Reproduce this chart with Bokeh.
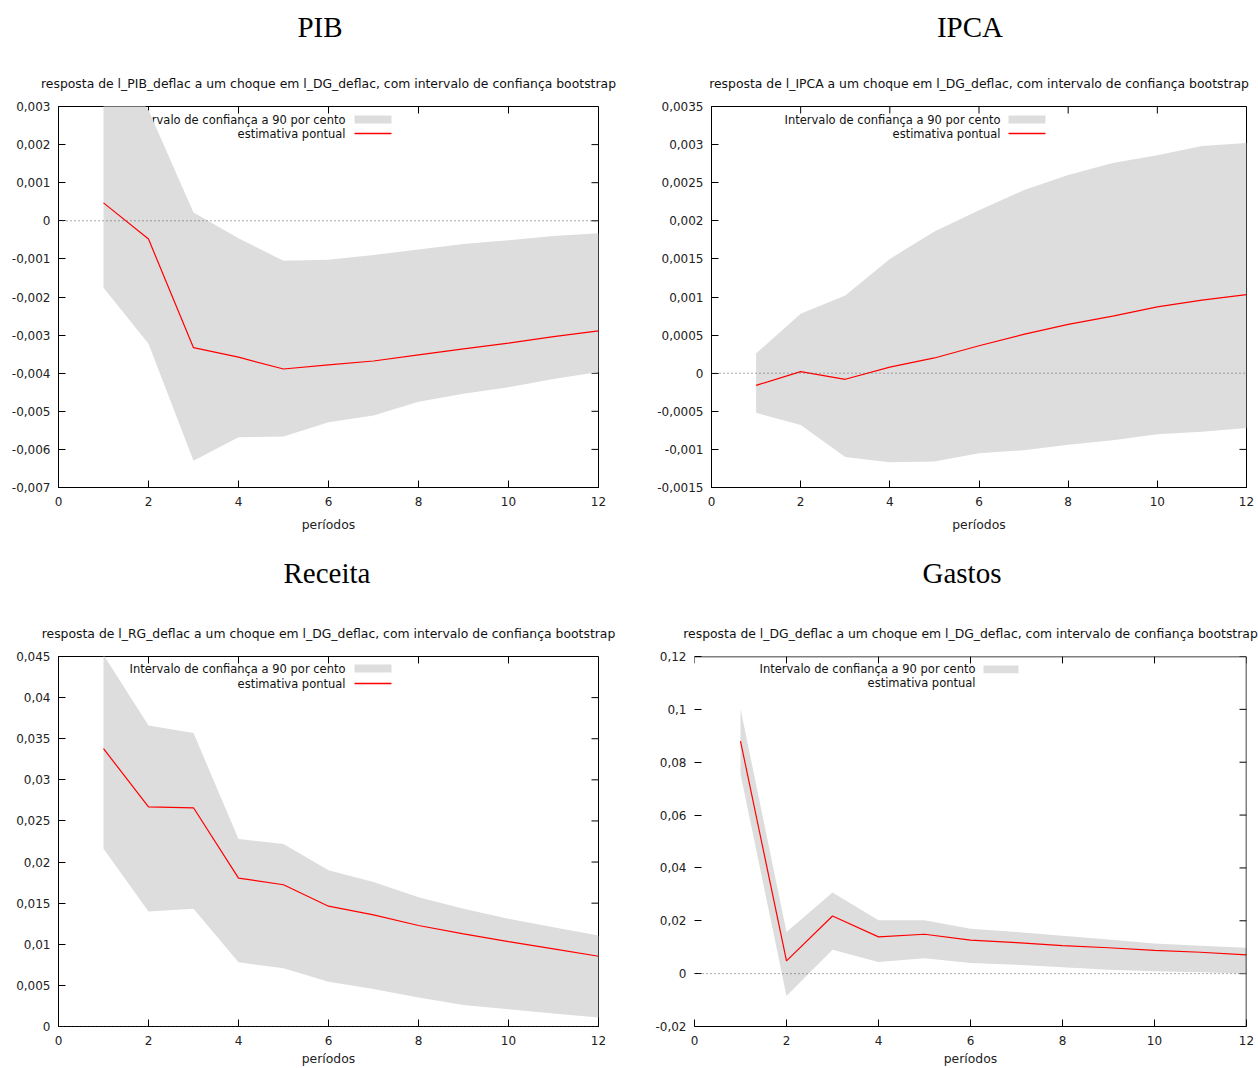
from bokeh.plotting import figure
from bokeh.models import (Range1d, FixedTicker, Span, Label,
                          BoxAnnotation, Div, CustomJSTickFormatter)
from bokeh.layouts import column, row
from bokeh.embed import file_html
from bokeh.resources import INLINE

# ---------------- data ----------------
periods = [1, 2, 3, 4, 5, 6, 7, 8, 9, 10, 11, 12]

pib_est = [0.00047, -0.00048, -0.00333, -0.00358, -0.00389, -0.00378,
           -0.00368, -0.00352, -0.00336, -0.00321, -0.00304, -0.00289]
pib_lo = [-0.00176, -0.00323, -0.0063, -0.00568, -0.00566, -0.00529,
          -0.00511, -0.00475, -0.00454, -0.00437, -0.00415, -0.00397]
pib_hi = [0.0045, 0.0029, 0.00022, -0.00046, -0.00105, -0.00102,
          -0.0009, -0.00075, -0.00061, -0.00051, -0.0004, -0.00033]

ipca_est = [-0.00016, 0.00002, -0.00008, 0.00008, 0.0002, 0.00036,
            0.00051, 0.00064, 0.00075, 0.00087, 0.00096, 0.00103]
ipca_lo = [-0.00052, -0.00068, -0.0011, -0.00117, -0.00116, -0.00105,
           -0.00101, -0.00094, -0.00088, -0.0008, -0.00077, -0.00072]
ipca_hi = [0.00026, 0.00078, 0.00102, 0.0015, 0.00186, 0.00214,
           0.0024, 0.0026, 0.00276, 0.00286, 0.00298, 0.00302]

rec_est = [0.0338, 0.0267, 0.0266, 0.01805, 0.01724, 0.01463,
           0.01358, 0.01228, 0.01126, 0.01033, 0.00943, 0.00854]
rec_lo = [0.02163, 0.01398, 0.01431, 0.0078, 0.00707, 0.00545,
          0.00455, 0.00354, 0.0026, 0.00211, 0.00159, 0.0011]
rec_hi = [0.0452, 0.0366, 0.0357, 0.0228, 0.0222, 0.019,
          0.01756, 0.01573, 0.01431, 0.01309, 0.01207, 0.01106]

gas_est = [0.088, 0.00485, 0.0218, 0.0139, 0.0149, 0.0127,
           0.0117, 0.0106, 0.0098, 0.0088, 0.0081, 0.0071]
gas_lo = [0.0755, -0.0085, 0.009, 0.0044, 0.0058, 0.004,
          0.0034, 0.0024, 0.0015, 0.0009, 0.0005, 0.0001]
gas_hi = [0.1002, 0.0158, 0.0307, 0.0202, 0.0202, 0.017,
          0.0158, 0.0143, 0.0129, 0.0114, 0.0106, 0.0098]

x_ticks = [0, 2, 4, 6, 8, 10, 12]
x_labels = ["0", "2", "4", "6", "8", "10", "12"]

pib_yticks = [-0.007, -0.006, -0.005, -0.004, -0.003, -0.002, -0.001, 0.0, 0.001, 0.002, 0.003]
pib_ylabels = ["-0,007", "-0,006", "-0,005", "-0,004", "-0,003", "-0,002", "-0,001",
               "0", "0,001", "0,002", "0,003"]
ipca_yticks = [-0.0015, -0.001, -0.0005, 0.0, 0.0005, 0.001, 0.0015, 0.002, 0.0025, 0.003, 0.0035]
ipca_ylabels = ["-0,0015", "-0,001", "-0,0005", "0", "0,0005", "0,001", "0,0015",
                "0,002", "0,0025", "0,003", "0,0035"]
rec_yticks = [0.0, 0.005, 0.01, 0.015, 0.02, 0.025, 0.03, 0.035, 0.04, 0.045]
rec_ylabels = ["0", "0,005", "0,01", "0,015", "0,02", "0,025", "0,03", "0,035", "0,04", "0,045"]
gas_yticks = [-0.02, 0.0, 0.02, 0.04, 0.06, 0.08, 0.1, 0.12]
gas_ylabels = ["-0,02", "0", "0,02", "0,04", "0,06", "0,08", "0,1", "0,12"]

headers = ["PIB", "IPCA", "Receita", "Gastos"]
subtitles = [
    "resposta de l_PIB_deflac a um choque em l_DG_deflac, com intervalo de confiança bootstrap",
    "resposta de l_IPCA a um choque em l_DG_deflac, com intervalo de confiança bootstrap",
    "resposta de l_RG_deflac a um choque em l_DG_deflac, com intervalo de confiança bootstrap",
    "resposta de l_DG_deflac a um choque em l_DG_deflac, com intervalo de confiança bootstrap",
]
legend_band = "Intervalo de confiança a 90 por cento"
legend_line = "estimativa pontual"
x_title = "períodos"

FONT = "DejaVu Sans"
BAND = "#dddddd"
RED = "#ff0000"
TICK = 7

JS = """
for (let i = 0; i < vals.length; i++) {
  if (Math.abs(vals[i] - tick) < 1e-12) { return labels[i]; }
}
return '';
"""


def fmt(vals, labels):
    return CustomJSTickFormatter(args=dict(vals=vals, labels=labels), code=JS)


def make_panel(subtitle, est, lo, hi, yticks, ylabels, ymin, ymax,
               width, height, bl, br, bt, bb,
               leg_text_right, leg_sw_left, leg_sw_right, leg_rows,
               left_line=True, line_sample=True, legend_under=False,
               xlabel_standoff=3):
    fw = width - bl - br
    fh = height - bt - bb
    p = figure(width=width, height=height, x_range=Range1d(0, 12),
               y_range=Range1d(ymin, ymax), output_backend="svg",
               toolbar_location=None, min_border_left=bl, min_border_right=br,
               min_border_top=bt, min_border_bottom=bb)
    p.background_fill_color = "white"
    p.border_fill_color = "white"
    p.xgrid.visible = False
    p.ygrid.visible = False
    p.outline_line_color = "black" if left_line else None

    p.title.text = subtitle
    p.title.align = "center"
    p.title.text_font = FONT
    p.title.text_font_size = "12.4px"
    p.title.text_font_style = "normal"
    p.title.text_color = "#111111"
    p.title.standoff = 32

    for ax in (p.xaxis[0], p.yaxis[0]):
        ax.major_tick_in = TICK
        ax.major_tick_out = 0
        ax.minor_tick_line_color = None
        ax.major_tick_line_color = "black"
        ax.axis_line_color = "black"
        ax.major_label_text_font = FONT
        ax.major_label_text_font_size = "12px"
        ax.major_label_text_color = "#222222"
        ax.major_label_standoff = 8

    p.xaxis.ticker = FixedTicker(ticks=x_ticks, minor_ticks=[])
    p.xaxis.formatter = fmt(x_ticks, x_labels)
    p.xaxis.major_label_standoff = 9
    p.xaxis.axis_label = x_title
    p.xaxis.axis_label_text_font = FONT
    p.xaxis.axis_label_text_font_size = "12.4px"
    p.xaxis.axis_label_text_font_style = "normal"
    p.xaxis.axis_label_text_color = "#222222"
    p.xaxis.axis_label_standoff = xlabel_standoff

    p.yaxis.ticker = FixedTicker(ticks=yticks, minor_ticks=[])
    p.yaxis.formatter = fmt(yticks, ylabels)
    if not left_line:
        p.yaxis.axis_line_color = None
        p.add_layout(Span(location=ymax, dimension="width", line_color="black", line_width=1.5))
        p.add_layout(Span(location=12, dimension="height", line_color="black", line_width=1.5))

    # mirrored (inward) tick marks on top and right sides
    ty = TICK / fh * (ymax - ymin)
    tx = TICK / fw * 12
    p.segment(x0=x_ticks, y0=[ymax] * len(x_ticks), x1=x_ticks,
              y1=[ymax - ty] * len(x_ticks), line_color="black", line_width=1)
    p.segment(x0=[12] * len(yticks), y0=yticks, x1=[12 - tx] * len(yticks),
              y1=yticks, line_color="black", line_width=1)

    # confidence band and point estimate
    p.varea(x=periods, y1=lo, y2=hi, fill_color=BAND, fill_alpha=1.0)
    p.line(x=periods, y=est, line_color=RED, line_width=1.2)
    p.add_layout(Span(location=0, dimension="width", line_color="#555555",
                      line_dash="1 3", line_width=1))

    # legend (gnuplot style: right-aligned text, then sample)
    def dx(px):
        return px / fw * 12

    def dy(py):
        return ymax - py / fh * (ymax - ymin)

    r1, r2 = leg_rows
    lvl = "underlay" if legend_under else "annotation"
    for txt, r in ((legend_band, r1), (legend_line, r2)):
        p.add_layout(Label(x=dx(leg_text_right), y=dy(r), text=txt,
                           text_align="right", text_baseline="middle",
                           text_font=FONT, text_font_size="11.5px",
                           text_color="#111111", level=lvl))
    p.add_layout(BoxAnnotation(left=dx(leg_sw_left), right=dx(leg_sw_right),
                               top=dy(r1 - 4), bottom=dy(r1 + 4),
                               fill_color=BAND, fill_alpha=1.0, line_color=None))
    if line_sample:
        p.segment(x0=[dx(leg_sw_left)], y0=[dy(r2)], x1=[dx(leg_sw_right)],
                  y1=[dy(r2)], line_color=RED, line_width=1.4)
    return p


def header(text, width, height, pad_top, shift):
    return Div(text=f'<div style="font-family:\'Liberation Serif\',serif;font-size:29px;'
                    f'line-height:30px;color:#000;text-align:center;width:{width}px;'
                    f'padding-top:{pad_top}px;position:relative;left:{shift}px;">{text}</div>',
               width=width, height=height, margin=0)


p1 = make_panel(subtitles[0], pib_est, pib_lo, pib_hi, pib_yticks, pib_ylabels,
                -0.007, 0.003, 648, 508, 58, 50, 58, 69,
                287, 296, 333, (13, 27), legend_under=True, xlabel_standoff=8)
p2 = make_panel(subtitles[1], ipca_est, ipca_lo, ipca_hi, ipca_yticks, ipca_ylabels,
                -0.0015, 0.0035, 610, 508, 63, 12, 58, 69,
                289, 297, 334, (13, 27), xlabel_standoff=8)
p3 = make_panel(subtitles[2], rec_est, rec_lo, rec_hi, rec_yticks, rec_ylabels,
                0.0, 0.045, 648, 472, 58, 50, 60, 42,
                287, 296, 333, (12, 27))
p4 = make_panel(subtitles[3], gas_est, gas_lo, gas_hi, gas_yticks, gas_ylabels,
                -0.02, 0.12, 610, 472, 46, 12, 55, 42,
                281, 289, 324, (13, 27), left_line=False, line_sample=False)

h1 = header(headers[0], 648, 48, 12, -4)
h2 = header(headers[1], 610, 48, 12, 17)
h3 = header(headers[2], 648, 40, 2, 3)
h4 = header(headers[3], 610, 40, 2, 9)

layout = column(row(h1, h2), row(p1, p2), row(h3, h4), row(p3, p4),
                spacing=0)

open("out.html", "w").write(file_html(layout, INLINE, title="IRF"))
